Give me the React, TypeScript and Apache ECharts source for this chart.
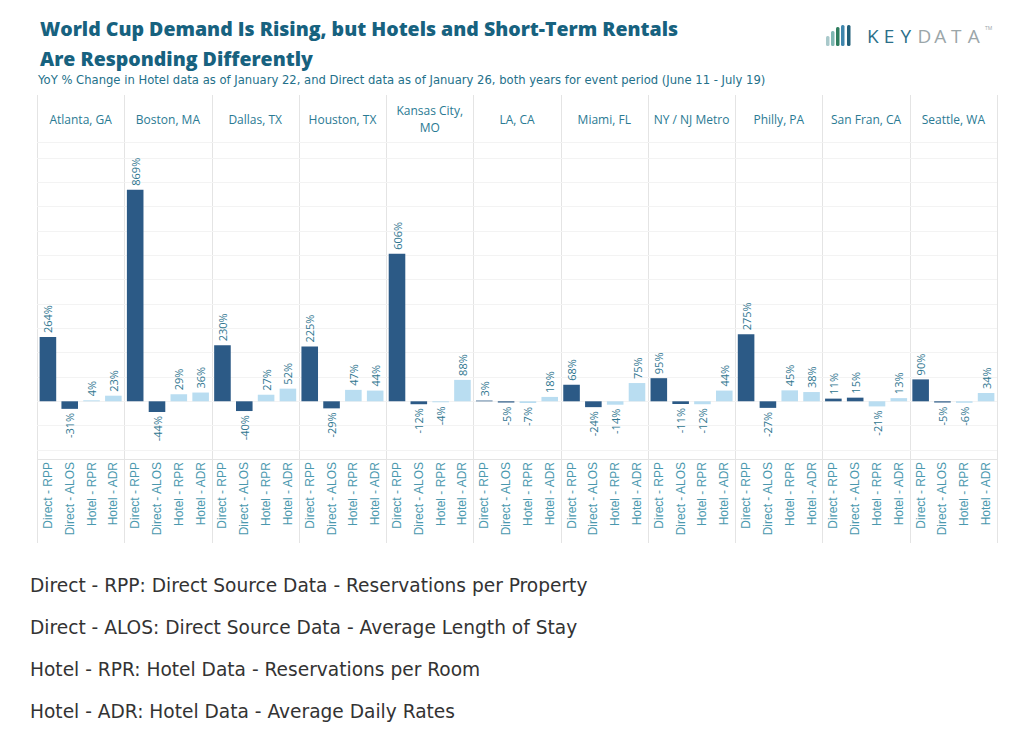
import React, { useEffect, useRef } from "react";
import * as echarts from "echarts";

const cities = [
  "Atlanta, GA",
  "Boston, MA",
  "Dallas, TX",
  "Houston, TX",
  "Kansas City,\nMO",
  "LA, CA",
  "Miami, FL",
  "NY / NJ Metro",
  "Philly, PA",
  "San Fran, CA",
  "Seattle, WA",
];
const metrics = ["Direct - RPP", "Direct - ALOS", "Hotel - RPR", "Hotel - ADR"];
const directRPP = [264, 869, 230, 225, 606, 3, 68, 95, 275, 11, 90];
const directALOS = [-31, -44, -40, -29, -12, -5, -24, -11, -27, 15, -5];
const hotelRPR = [4, 29, 27, 47, -4, -7, -14, -12, 45, -21, -6];
const hotelADR = [23, 36, 52, 44, 88, 18, 75, 44, 38, 13, 34];

const titleLines = [
  "World Cup Demand Is Rising, but Hotels and Short-Term Rentals",
  "Are Responding Differently",
];
const subtitle =
  "YoY % Change in Hotel data as of January 22, and Direct data as of January 26, both years for event period (June 11 - July 19)";
const legendLines = [
  "Direct - RPP: Direct Source Data - Reservations per Property",
  "Direct - ALOS: Direct Source Data - Average Length of Stay",
  "Hotel - RPR: Hotel Data - Reservations per Room",
  "Hotel - ADR: Hotel Data - Average Daily Rates",
];

const Y_MIN = -200;
const Y_MAX = 1065;
const Y_STEP = 100;

const NAVY = "#2c5a86";
const LIGHT = "#b9ddf1";
const TEAL_TEXT = "#2f7690";
const AXIS_TEXT = "#4a98ae";
const DIVIDER = "#e4e4e4";

export default function App() {
  const ref = useRef<HTMLDivElement>(null);

  useEffect(() => {
    if (!ref.current) return;
    const chart = echarts.init(ref.current, undefined, { renderer: "svg" });

    const L = 37;
    const R = 997;
    const W = (R - L) / cities.length;
    const PLOT_TOP = 142;
    const PLOT_BOTTOM = 450;
    const HEADER_TOP = 95;
    const LABEL_TOP = 459;
    const FRAME_BOTTOM = 543;

    const grids: any[] = [];
    const xAxes: any[] = [];
    const yAxes: any[] = [];
    const series: any[] = [];

    cities.forEach((city, i) => {
      grids.push({
        left: L + i * W,
        width: W,
        top: PLOT_TOP,
        height: PLOT_BOTTOM - PLOT_TOP,
        containLabel: false,
      });
      xAxes.push({
        gridIndex: i,
        type: "category",
        data: metrics,
        axisLine: { show: false },
        axisTick: { show: false },
        axisLabel: {
          interval: 0,
          rotate: 90,
          margin: 12,
          color: AXIS_TEXT,
          fontSize: 12,
          fontFamily: "Liberation Sans, Arial, sans-serif",
        },
      });
      xAxes.push({
        gridIndex: i,
        type: "category",
        position: "top",
        data: [city],
        axisLine: { show: false },
        axisTick: { show: false },
        axisLabel: {
          interval: 0,
          margin: 23,
          verticalAlign: "middle",
          align: "center",
          color: "#2a7a93",
          fontSize: 12,
          lineHeight: 17,
          fontFamily: "Open Sans, sans-serif",
        },
      });
      yAxes.push({
        gridIndex: i,
        type: "value",
        min: Y_MIN,
        max: Y_MAX,
        interval: Y_STEP,
        axisLabel: { show: false },
        axisLine: { show: false },
        axisTick: { show: false },
        splitLine: { show: true, lineStyle: { color: "#f3f3f3", width: 1 } },
      });
      const vals = [directRPP[i], directALOS[i], hotelRPR[i], hotelADR[i]];
      series.push({
        type: "bar",
        xAxisIndex: i * 2,
        yAxisIndex: i,
        barWidth: "76%",
        data: vals.map((v, j) => ({
          value: v,
          itemStyle: { color: j < 2 ? NAVY : LIGHT },
          label: {
            show: true,
            position: v >= 0 ? "top" : "bottom",
            rotate: 90,
            align: v >= 0 ? "left" : "right",
            verticalAlign: "middle",
            distance: 4,
            formatter: "{c}%",
            color: TEAL_TEXT,
            fontSize: 11,
            fontFamily: "Open Sans, sans-serif",
          },
        })),
      });
    });

    const graphic: any[] = [];
    for (let i = 0; i <= cities.length; i++) {
      const x = Math.round(L + i * W) + 0.5;
      graphic.push({
        type: "line",
        shape: { x1: x, y1: HEADER_TOP, x2: x, y2: FRAME_BOTTOM },
        style: { stroke: DIVIDER, lineWidth: 1 },
        silent: true,
      });
    }
    graphic.push({
      type: "line",
      shape: { x1: L, y1: PLOT_TOP + 0.5, x2: R, y2: PLOT_TOP + 0.5 },
      style: { stroke: DIVIDER, lineWidth: 1 },
    });
    graphic.push({
      type: "line",
      shape: { x1: L, y1: LABEL_TOP + 0.5, x2: R, y2: LABEL_TOP + 0.5 },
      style: { stroke: DIVIDER, lineWidth: 1 },
    });

    titleLines.forEach((t, k) => {
      graphic.push({
        type: "text",
        x: 40,
        y: 28 + k * 30,
        style: {
          text: t,
          fill: "#17627f",
          font: "800 19.5px 'Open Sans', sans-serif",
          textVerticalAlign: "middle",
        },
      });
    });
    graphic.push({
      type: "text",
      x: 38,
      y: 80,
      style: {
        text: subtitle,
        fill: "#23708a",
        font: "11.6px 'DejaVu Sans', sans-serif",
        textVerticalAlign: "middle",
      },
    });

    // logo
    const logoBars = [
      { x: 826, y: 36, h: 10, c: "#a9c9cb" },
      { x: 831, y: 31, h: 15, c: "#7fb7b2" },
      { x: 836, y: 27, h: 19, c: "#2f7d5e" },
      { x: 841, y: 25, h: 21, c: "#3f86ad" },
      { x: 847, y: 25, h: 21, c: "#23607a" },
    ];
    logoBars.forEach((b) => {
      graphic.push({
        type: "rect",
        shape: { x: b.x, y: b.y, width: 3.5, height: b.h, r: 1.5 },
        style: { fill: b.c },
      });
    });
    const logoLetters = "KEYDATA".split("");
    logoLetters.forEach((ch, k) => {
      graphic.push({
        type: "text",
        x: 867 + k * 16.8,
        y: 36,
        style: {
          text: ch,
          fill: k < 3 ? "#2b6f89" : "#9ba6a9",
          font: "400 19px 'Open Sans', sans-serif",
          textVerticalAlign: "middle",
        },
      });
    });
    graphic.push({
      type: "text",
      x: 985,
      y: 28,
      style: { text: "TM", fill: "#9ba6a9", font: "5px 'Open Sans', sans-serif", textVerticalAlign: "middle" },
    });

    legendLines.forEach((t, k) => {
      graphic.push({
        type: "text",
        x: 30,
        y: 585 + k * 42,
        style: {
          text: t,
          fill: "#333333",
          font: "18.6px 'DejaVu Sans', sans-serif",
          textVerticalAlign: "middle",
        },
      });
    });

    chart.setOption({
      animation: false,
      backgroundColor: "#ffffff",
      grid: grids,
      xAxis: xAxes,
      yAxis: yAxes,
      series,
      graphic,
    });

    return () => chart.dispose();
  }, []);

  return (
    <div
      ref={ref}
      style={{ position: "fixed", left: 0, top: 0, width: 1024, height: 746 }}
    />
  );
}
